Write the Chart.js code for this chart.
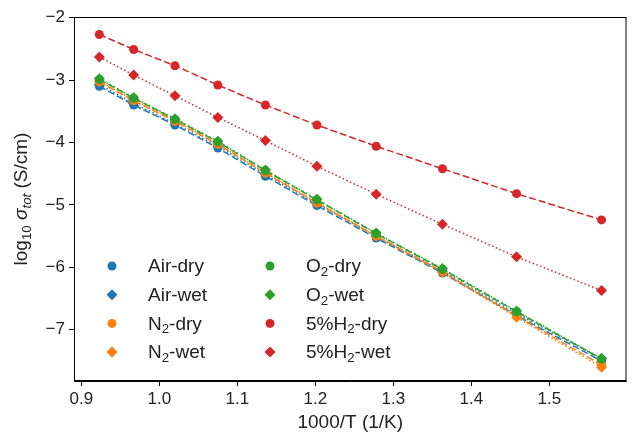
<!DOCTYPE html>
<html>
<head>
<meta charset="utf-8">
<script src="https://cdn.jsdelivr.net/npm/chart.js@4"></script>
<style>
  html, body { margin: 0; padding: 0; background: #fff; }
</style>
</head>
<body>
<canvas id="chart" width="632" height="435"></canvas>
<script>
// 1000/T values (1/K)
const invT = [0.923, 0.967, 1.020, 1.075, 1.136, 1.202, 1.278, 1.363, 1.458, 1.567];

// log10 sigma_tot (S/cm)
const airDry = [-3.10, -3.40, -3.72, -4.09, -4.54, -5.01, -5.53, -6.09, -6.77, -7.50];
const airWet = [-3.07, -3.37, -3.70, -4.06, -4.51, -4.98, -5.50, -6.06, -6.74, -7.46];
const n2Dry  = [-3.03, -3.33, -3.66, -4.03, -4.49, -4.97, -5.50, -6.07, -6.78, -7.56];
const n2Wet  = [-3.02, -3.32, -3.65, -4.02, -4.48, -4.96, -5.50, -6.08, -6.80, -7.60];
const o2Dry  = [-2.99, -3.29, -3.63, -3.99, -4.45, -4.92, -5.46, -6.03, -6.71, -7.47];
const o2Wet  = [-2.98, -3.28, -3.62, -3.98, -4.44, -4.91, -5.45, -6.02, -6.70, -7.46];
const h2Dry  = [-2.27, -2.51, -2.77, -3.08, -3.40, -3.72, -4.06, -4.42, -4.82, -5.24];
const h2Wet  = [-2.63, -2.92, -3.25, -3.60, -3.97, -4.38, -4.83, -5.31, -5.83, -6.37];

const xTicks = [0.9, 1.0, 1.1, 1.2, 1.3, 1.4, 1.5];
const yTicks = [-2, -3, -4, -5, -6, -7];

const FONT = "'Liberation Sans', Arial, sans-serif";
const BLUE = "#1f77b4", ORANGE = "#ff7f0e", GREEN = "#2ca02c", RED = "#d62728";

// label parts: [text, isSubscript]
const series = [
  { label: [["Air-dry", 0]], data: airDry, color: BLUE, dry: true },
  { label: [["Air-wet", 0]], data: airWet, color: BLUE, dry: false },
  { label: [["N", 0], ["2", 1], ["-dry", 0]], data: n2Dry, color: ORANGE, dry: true },
  { label: [["N", 0], ["2", 1], ["-wet", 0]], data: n2Wet, color: ORANGE, dry: false },
  { label: [["O", 0], ["2", 1], ["-dry", 0]], data: o2Dry, color: GREEN, dry: true },
  { label: [["O", 0], ["2", 1], ["-wet", 0]], data: o2Wet, color: GREEN, dry: false },
  { label: [["5%H", 0], ["2", 1], ["-dry", 0]], data: h2Dry, color: RED, dry: true },
  { label: [["5%H", 0], ["2", 1], ["-wet", 0]], data: h2Wet, color: RED, dry: false },
];

const datasets = series.map((s, i) => ({
  label: s.label.map(p => p[0]).join(""),
  data: s.data.map((v, j) => ({ x: invT[j], y: v })),
  borderColor: s.color,
  backgroundColor: s.color,
  borderWidth: 1.5,
  borderDash: s.dry ? [7, 3] : [1.5, 2.5],
  pointStyle: s.dry ? "circle" : "rectRot",
  pointRadius: s.dry ? 4.5 : 5.5,
  pointBorderWidth: 0,
  showLine: true,
  tension: 0,
  order: series.length - i,
}));

function drawParts(ctx, parts, x, y, size) {
  for (const [t, sub, it] of parts) {
    const fs = sub ? size * 0.7 : size;
    ctx.font = (it ? "italic " : "") + fs + "px " + FONT;
    ctx.fillText(t, x, sub ? y + size * 0.28 : y);
    x += ctx.measureText(t).width;
  }
  return x;
}

function partsWidth(ctx, parts, size) {
  let w = 0;
  for (const [t, sub, it] of parts) {
    ctx.font = (it ? "italic " : "") + (sub ? size * 0.7 : size) + "px " + FONT;
    w += ctx.measureText(t).width;
  }
  return w;
}

const legendPlugin = {
  id: "insideLegend",
  afterDraw(chart) {
    const ctx = chart.ctx;
    ctx.save();
    ctx.textBaseline = "middle";
    series.forEach((s, i) => {
      const col = Math.floor(i / 4), row = i % 4;
      const mx = col ? 270 : 112;
      const tx = col ? 306 : 148;
      const y = 266 + row * 28.7;
      ctx.fillStyle = s.color;
      ctx.beginPath();
      if (s.dry) { ctx.arc(mx, y, 4.5, 0, Math.PI * 2); }
      else { ctx.moveTo(mx - 5.5, y); ctx.lineTo(mx, y - 5.5); ctx.lineTo(mx + 5.5, y); ctx.lineTo(mx, y + 5.5); ctx.closePath(); }
      ctx.fill();
      ctx.fillStyle = "#222";
      drawParts(ctx, s.label, tx, y + 1, 19);
    });
    ctx.restore();
  }
};

const framePlugin = {
  id: "frame",
  afterDraw(chart) {
    const { ctx, chartArea: a } = chart;
    ctx.save();
    ctx.strokeStyle = "#000";
    ctx.lineWidth = 1;
    ctx.strokeRect(a.left + 0.5, a.top + 0.5, a.right - a.left - 1, a.bottom - a.top - 1);
    // y axis title: log10 sigma_tot (S/cm)
    ctx.translate(22, (a.top + a.bottom) / 2);
    ctx.rotate(-Math.PI / 2);
    ctx.fillStyle = "#222";
    ctx.textBaseline = "middle";
    const size = 19;
    const parts = [["log", 0, 0], ["10", 1, 0], [" ", 0, 0], ["\u03c3", 0, 1], ["tot", 1, 1], [" (S/cm)", 0, 0]];
    drawParts(ctx, parts, -partsWidth(ctx, parts, size) / 2, 0, size);
    ctx.restore();
  }
};

new Chart(document.getElementById("chart"), {
  type: "scatter",
  data: { datasets },
  options: {
    responsive: false,
    animation: false,
    layout: { padding: { top: 17, right: 1, left: 0, bottom: 0 } },
    plugins: { legend: { display: false }, tooltip: { enabled: false } },
    scales: {
      x: {
        type: "linear",
        min: 0.8905,
        max: 1.599,
        afterFit: s => { s.height = 54; },
        afterBuildTicks: s => { s.ticks = xTicks.map(v => ({ value: v })); },
        ticks: { callback: v => v.toFixed(1), color: "#222", font: { family: FONT, size: 17 }, padding: 3, maxRotation: 0 },
        grid: { display: true, drawOnChartArea: false, drawTicks: true, tickLength: 5, tickColor: "#000", tickWidth: 1 },
        border: { display: true, color: "#000", width: 1 },
        title: { display: true, text: "1000/T (1/K)", color: "#222", font: { family: FONT, size: 19 }, padding: { top: 0, bottom: 1 } },
      },
      y: {
        type: "linear",
        min: -7.82,
        max: -1.99,
        afterFit: s => { s.width = 74; },
        afterBuildTicks: s => { s.ticks = yTicks.map(v => ({ value: v })); },
        ticks: { callback: v => "\u2212" + Math.abs(v), color: "#222", font: { family: FONT, size: 17 }, padding: 4 },
        grid: { display: true, drawOnChartArea: false, drawTicks: true, tickLength: 5, tickColor: "#000", tickWidth: 1 },
        border: { display: true, color: "#000", width: 1 },
      },
    },
  },
  plugins: [legendPlugin, framePlugin],
});
</script>
</body>
</html>
